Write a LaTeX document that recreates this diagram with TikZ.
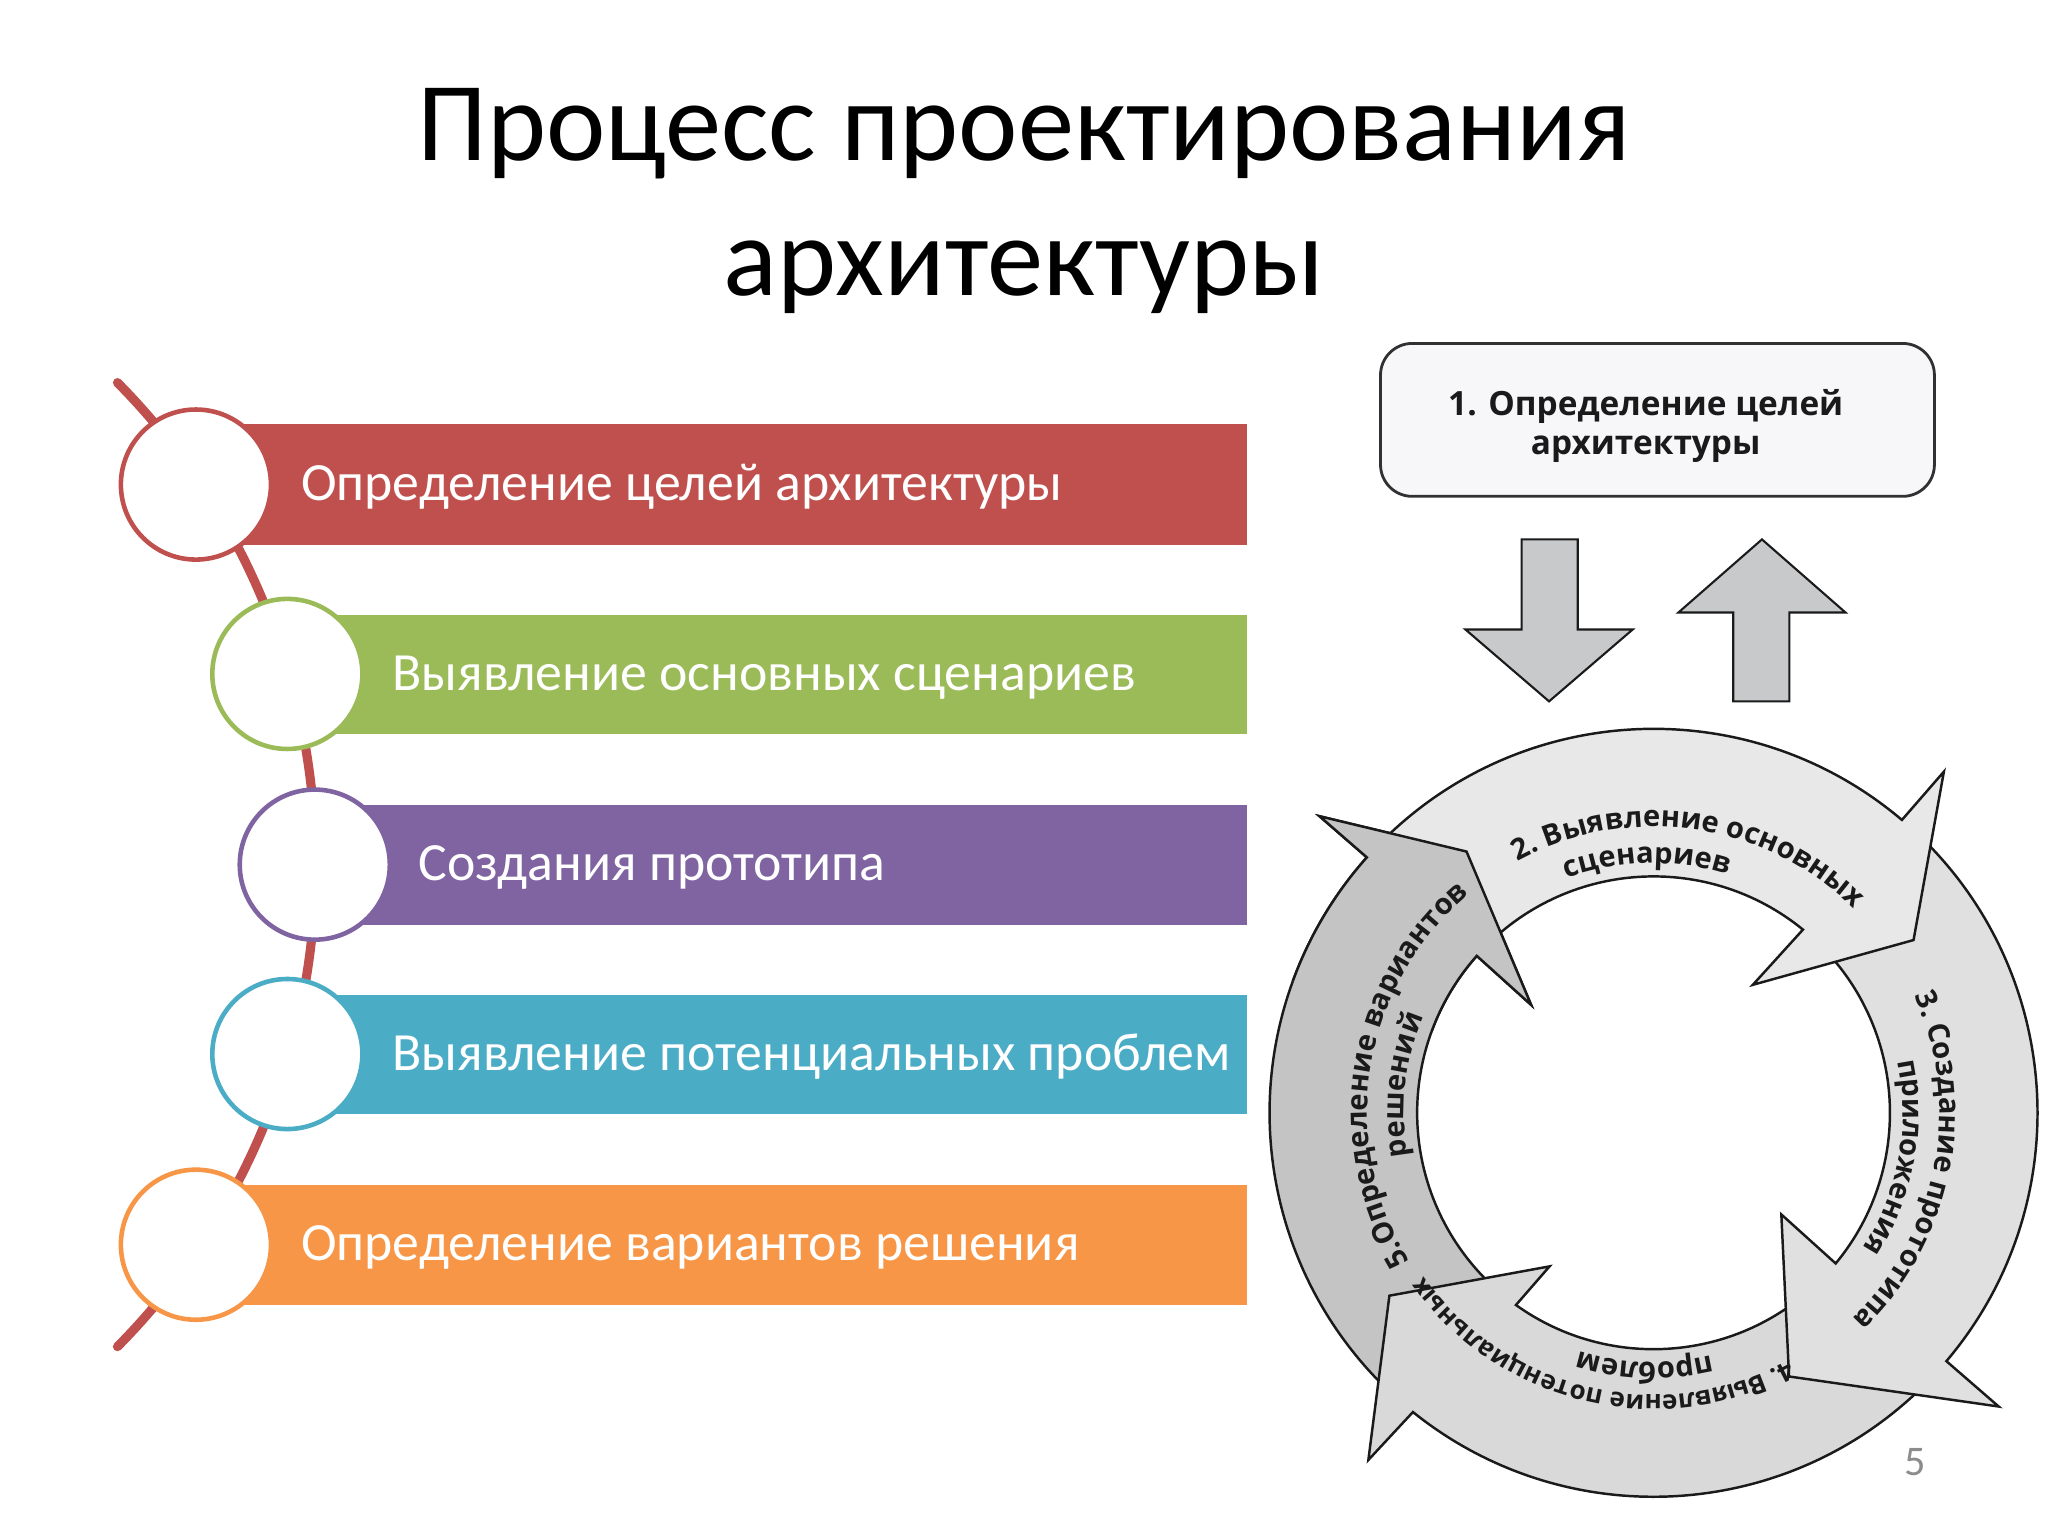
\documentclass[tikz,border=0pt]{standalone}
\usepackage{fontspec}
\setmainfont{Carlito}
\newfontfamily\ringfont{Open Sans}
\usetikzlibrary{decorations.text}
\definecolor{cred}{HTML}{C0504D}
\definecolor{cgreen}{HTML}{9BBB59}
\definecolor{cpurple}{HTML}{8064A2}
\definecolor{cblue}{HTML}{4BACC6}
\definecolor{corange}{HTML}{F79646}
\definecolor{gtwo}{HTML}{E8E8E8}
\definecolor{gthree}{HTML}{E0E0E0}
\definecolor{gfour}{HTML}{D9D9D9}
\definecolor{gfive}{HTML}{C4C4C4}
\definecolor{boxfill}{HTML}{F7F7F9}
\definecolor{ink}{HTML}{1A1A1A}
\definecolor{arrowfill}{HTML}{C8C9CB}
\newcommand\ringfx{\ringfont\bfseries\fontsize{8.3}{10}\selectfont}
\newcommand\ringfxs{\ringfont\bfseries\fontsize{7.4}{9}\selectfont}
\tikzset{
  circ/.style={circle, fill=white, inner sep=0pt, minimum size=42.7pt, line width=1.3pt},
  bartext/.style={anchor=base west, text=white, font=\fontsize{15.3}{18}\selectfont, inner sep=0pt},
  blockarrow/.style={fill=arrowfill, draw=ink, line width=0.6pt, line join=miter},
  ringarrow/.style={draw=ink, line width=0.7pt, line join=miter},
  topbox/.style={rounded corners=9pt, fill=boxfill, draw=ink!90, line width=0.8pt,
     minimum width=157.6pt, minimum height=43.5pt},
  boxtext/.style={anchor=base, inner sep=0pt, font=\ringfont\bfseries\fontsize{9.5}{11}\selectfont, text=ink},
  ringtext/.style={decorate, decoration={text along path, text align=center, text color=ink, text={#1}}},
}
\begin{document}
\begin{tikzpicture}[x=0.013061cm,y=0.013061cm]
\useasboundingbox (0,0) rectangle (1568,1176);
\fill[white] (0,0) rectangle (1568,1176);

% title
\node[anchor=base, font=\fontsize{32}{38}\selectfont, inner sep=0pt] (t1) at (784,1053) {Процесс проектирования};
\node[anchor=base, font=\fontsize{32}{38}\selectfont, inner sep=0pt] (t2) at (784,950) {архитектуры};

% left list
\draw[cred, line width=2.6pt, line cap=round] (-283,514) ++(44.7:524.7) arc[start angle=44.7, end angle=-44.7, radius=524.7];
\fill[cred]    (150,759) rectangle (955,851);
\fill[cgreen]  (220,614) rectangle (955,705);
\fill[cpurple] (241,468) rectangle (955,560);
\fill[cblue]   (220,323) rectangle (955,414);
\fill[corange] (150,177) rectangle (955,269);
\node[circ, draw=cred]    (c1) at (150,805) {};
\node[circ, draw=cgreen]  (c2) at (220,660) {};
\node[circ, draw=cpurple] (c3) at (241,514) {};
\node[circ, draw=cblue]   (c4) at (220,369) {};
\node[circ, draw=corange] (c5) at (150,223) {};
\node[bartext] (l1) at (230,793) {Определение целей архитектуры};
\node[bartext] (l2) at (300,647.5) {Выявление основных сценариев};
\node[bartext] (l3) at (320,502) {Создания прототипа};
\node[bartext] (l4) at (300,356.5) {Выявление потенциальных проблем};
\node[bartext] (l5) at (230,211) {Определение вариантов решения};

% right: top box and arrows
\node[topbox] (g1) at (1269,854.5) {};
\node[boxtext] (g1a) at (1260,858) {1. Определение целей};
\node[boxtext] (g1b) at (1260,828) {архитектуры};
\draw[blockarrow] (1165,763) -- (1208,763) -- (1208,694) -- (1250,694) -- (1186,639) -- (1122,694) -- (1165,694) -- cycle;
\draw[blockarrow] (1349,763) -- (1413,707) -- (1370,707) -- (1370,639) -- (1327,639) -- (1327,707) -- (1285,707) -- cycle;

% ring
\begin{scope}[shift={(1266,324)}]
\draw[ringarrow, fill=gfive] (229.5:294) arc[start angle=229.5, end angle=138.3, radius=294] -- (138.4:342) -- (125.6:246) -- (138.6:125) -- (138.4:181) arc[start angle=138.4, end angle=229.5, radius=181] -- cycle;
\draw[ringarrow, fill=gfour] (-45:294) arc[start angle=-45, end angle=-128.8, radius=294] -- (-129.4:344) -- (-145.3:246) -- (-124.1:142) -- (-125.6:181) arc[start angle=-125.6, end angle=-45, radius=181] -- cycle;
\draw[ringarrow, fill=gthree] (46.5:294) arc[start angle=46.5, end angle=-40.3, radius=294] -- (-40.4:347) -- (-62.8:227) -- (-38.5:125) -- (-39.6:181) arc[start angle=-39.6, end angle=46.5, radius=181] -- cycle;
\draw[ringarrow, fill=gtwo] (135.5:294) arc[start angle=135.5, end angle=49.7, radius=294] -- (49.6:343) -- (33.6:239) -- (52.2:124) -- (50.8:181) arc[start angle=50.8, end angle=135.5, radius=181] -- cycle;
\begin{scope}
\clip (0,0) -- (110:420) arc[start angle=110, end angle=160, radius=420] -- cycle;
\draw[ringarrow, fill=gfive] (229.5:294) arc[start angle=229.5, end angle=138.3, radius=294] -- (138.4:342) -- (125.6:246) -- (138.6:125) -- (138.4:181) arc[start angle=138.4, end angle=229.5, radius=181] -- cycle;
\end{scope}
% ring texts
\path[ringtext={|\ringfx|2. Выявление основных}] (162:219) arc[start angle=162, end angle=2, radius=219];
\path[ringtext={|\ringfx|сценариев}] (171.5:191) arc[start angle=171.5, end angle=11.5, radius=191];
\path[ringtext={|\ringfx|3. Создание прототипа}] (69:219) arc[start angle=69, end angle=-91, radius=219];
\path[ringtext={|\ringfx|приложения}] (69.5:191) arc[start angle=69.5, end angle=-90.5, radius=191];
\path[ringtext={|\ringfxs|4. Выявление потенциальных}] (-23:216) arc[start angle=-23, end angle=-183, radius=216];
\path[ringtext={|\ringfx|проблем}] (-12:191) arc[start angle=-12, end angle=-172, radius=191];
\path[ringtext={|\ringfx|5.Определение вариантов}] (250.7:219) arc[start angle=250.7, end angle=90.7, radius=219];
\path[ringtext={|\ringfx|решений}] (253.6:191) arc[start angle=253.6, end angle=93.6, radius=191];
\end{scope}

\node[anchor=base, font=\fontsize{12}{14}\selectfont, text=black!45, inner sep=0pt] (pn) at (1466,46) {5};
\end{tikzpicture}
\end{document}
